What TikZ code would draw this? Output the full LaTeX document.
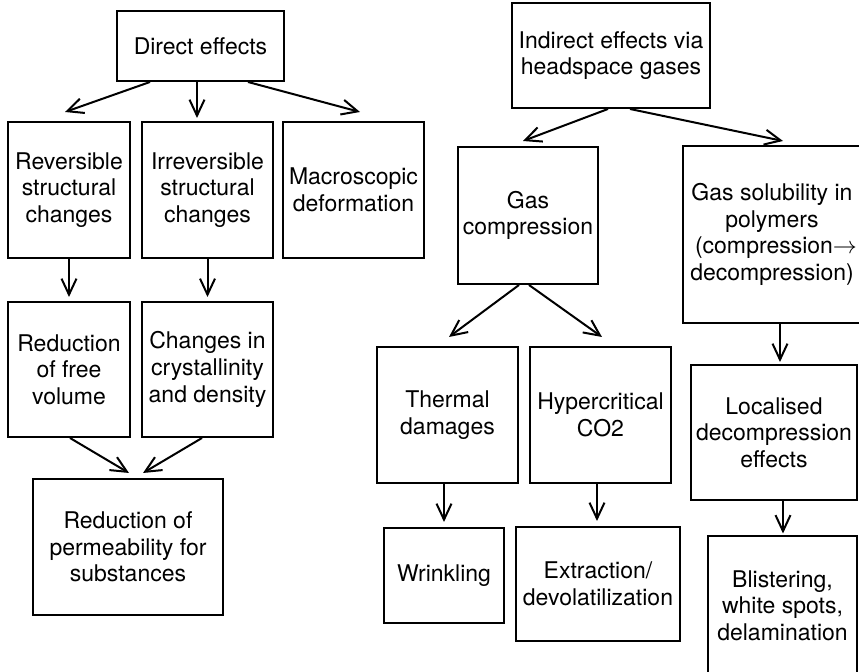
\documentclass[tikz,border=0pt]{standalone}
\usepackage{fontspec}
\setmainfont{TeX Gyre Heros}
\usetikzlibrary{calc,arrows.meta}

\tikzset{
  box/.style={draw, line width=1pt, align=center, inner sep=0pt,
    font=\fontsize{11.5}{13.3}\selectfont},
  arr/.style={line width=1pt, -{Straight Barb[length=8pt,width=7.5pt]}}
}

\begin{document}
\begin{tikzpicture}[x=0.5pt,y=-0.5pt]
  \useasboundingbox (0,0) rectangle (859,672);
  \clip (0,0) rectangle (859,672);

  % Direct effects branch
  \node[box, minimum width=83.5pt, minimum height=35pt] (dir) at (200.5,46) {Direct effects};
  \node[box, minimum width=61pt, minimum height=68pt] (rev) at (69,190) {Reversible\\structural\\changes};
  \node[box, minimum width=65.5pt, minimum height=68pt] (irr) at (207.5,190) {Irreversible\\structural\\changes};
  \node[box, minimum width=70.5pt, minimum height=68pt] (mac) at (353.5,190) {Macroscopic\\deformation};
  \node[box, minimum width=61pt, minimum height=67.5pt] (rfv) at (69,369.5) {Reduction\\of free\\volume};
  \node[box, minimum width=65.5pt, minimum height=67.5pt] (cid) at (207.5,369.5) {Changes in\\crystallinity\\and density};
  \node[box, minimum width=95pt, minimum height=68pt] (rop) at (128,547) {Reduction of\\permeability for\\substances};

  \draw[arr] ($(dir.south)+(-50.5,0)$) -- ($(rev.north)+(-4,-9)$);
  \draw[arr] ($(dir.south)+(-3.5,0)$) -- ($(irr.north)+(-10.5,-3)$);
  \draw[arr] ($(dir.south)+(47.5,0)$) -- ($(mac.north)+(6.5,-9)$);
  \draw[arr] (rev.south) -- ($(rfv.north)+(0,-4)$);
  \draw[arr] (irr.south) -- ($(cid.north)+(0,-4)$);
  \draw[arr] ($(rfv.south)+(1,0)$) -- ($(rop.north)+(1,-5)$);
  \draw[arr] ($(cid.south)+(-5.5,0)$) -- ($(rop.north)+(15,-5)$);

  % Indirect effects branch
  \node[box, minimum width=99pt, minimum height=52.5pt] (ind) at (611,55.5) {Indirect effects via\\headspace gases};
  \node[box, minimum width=70pt, minimum height=68.5pt] (gc) at (528,215.5) {Gas\\compression};
  \node[box, minimum width=89pt, minimum height=88.5pt] (gs) at (772,234.5)
    {Gas solubility in\\polymers\\\hspace*{4pt}(compression$\rightarrow$\\decompression)};
  \node[box, minimum width=70.5pt, minimum height=68pt] (tdm) at (447.5,415) {Thermal\\damages};
  \node[box, minimum width=70.5pt, minimum height=68pt] (hco) at (600.5,415) {Hypercritical\\CO2};
  \node[box, minimum width=83pt, minimum height=67.5pt] (loc) at (774,432.5) {Localised\\decompression\\effects};
  \node[box, minimum width=60pt, minimum height=47.5pt] (wri) at (444,575.5) {Wrinkling};
  \node[box, minimum width=82pt, minimum height=57pt] (ext) at (598,584) {Extraction/\\devolatilization};
  \node[box, minimum width=74.5pt, minimum height=69pt] (bli) at (782.5,605.5) {Blistering,\\white spots,\\delamination};

  \draw[arr] ($(ind.south)+(-3,0)$) -- ($(gc.north)+(-5,-5)$);
  \draw[arr] ($(ind.south)+(19,0)$) -- ($(gs.north)+(11,-4)$);
  \draw[arr] ($(gc.south)+(-9,0)$) -- ($(tdm.north)+(1.5,-9)$);
  \draw[arr] ($(gc.south)+(1,0)$) -- ($(hco.north)+(1.5,-9)$);
  \draw[arr] ($(gs.south)+(8,0)$) -- ($(loc.north)+(6,-2)$);
  \draw[arr] ($(tdm.south)+(-3.5,0)$) -- ($(wri.north)+(0,-5)$);
  \draw[arr] ($(hco.south)+(-3.5,0)$) -- ($(ext.north)+(-1,-5)$);
  \draw[arr] ($(loc.south)+(9,0)$) -- ($(bli.north)+(0.5,-2)$);
\end{tikzpicture}
\end{document}
